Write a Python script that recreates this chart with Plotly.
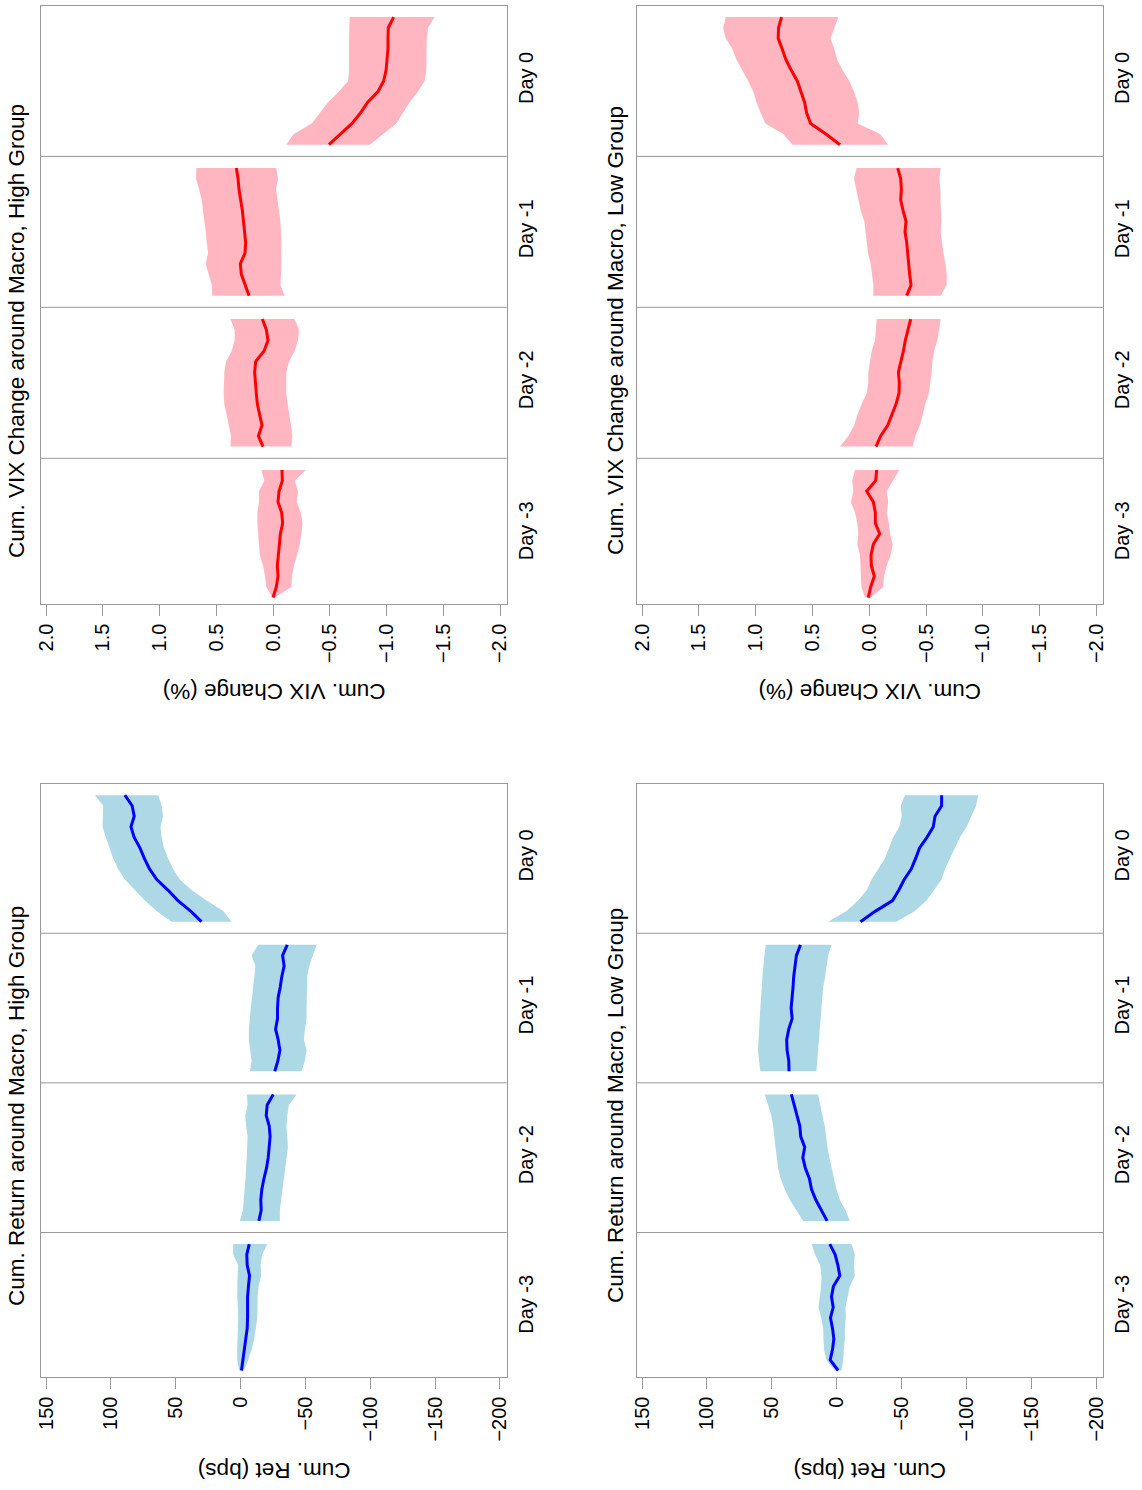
import plotly.graph_objects as go

W, H = 1142, 1490

day_labels = ["Day -3", "Day -2", "Day -1", "Day 0"]
n_pts = 13  # readings per day, evenly spaced through the session

ret_ticks = [150, 100, 50, 0, -50, -100, -150, -200]
ret_tick_text = ["150", "100", "50", "0", "\u221250", "\u2212100", "\u2212150", "\u2212200"]
vix_ticks = [2.0, 1.5, 1.0, 0.5, 0.0, -0.5, -1.0, -1.5, -2.0]
vix_tick_text = ["2.0", "1.5", "1.0", "0.5", "0.0", "\u22120.5", "\u22121.0", "\u22121.5", "\u22122.0"]

# ---- Cum. Return, High Group (bps) : one row per day (Day -3 .. Day 0)
ret_high_mean = [
    [-0.7, -1.8, -2.8, -4.1, -5.1, -5.4, -5.4, -5.4, -6.1, -6.9, -5.1, -4.8, -6.7],
    [-14.1, -15.9, -15.6, -16.4, -18.0, -20.0, -21.3, -21.8, -22.8, -22.1, -19.8, -20.5, -25.2],
    [-26.4, -28.8, -30.3, -29.0, -27.0, -28.5, -28.5, -29.0, -30.6, -31.8, -33.6, -32.4, -36.0],
    [30.1, 38.5, 48.3, 56.0, 64.6, 70.2, 74.2, 77.6, 82.0, 84.5, 82.0, 83.6, 89.2],
]
ret_high_upper = [
    [1.1, 2.6, 2.6, 2.6, 2.1, 1.8, 2.1, 2.6, 2.6, 2.3, 1.8, 5.7, 5.7],
    [0.5, -1.8, -2.5, -3.1, -3.8, -4.3, -4.9, -5.1, -5.4, -4.3, -3.6, -5.4, -4.9],
    [-7.2, -8.5, -7.4, -6.4, -6.4, -7.2, -7.9, -8.5, -9.7, -10.5, -11.5, -8.5, -13.6],
    [53.2, 64.8, 73.8, 81.5, 89.2, 94.4, 98.2, 101.3, 103.9, 106.4, 105.9, 105.9, 112.3],
]
ret_high_lower = [
    [-2.5, -5.9, -8.5, -10.5, -11.8, -12.8, -13.1, -13.1, -13.9, -15.9, -15.4, -16.7, -20.5],
    [-30.3, -30.3, -31.3, -32.4, -33.6, -34.7, -35.7, -36.5, -36.0, -35.4, -36.0, -37.2, -43.2],
    [-47.0, -49.6, -50.9, -48.8, -49.6, -50.9, -50.9, -50.9, -50.9, -51.4, -52.9, -56.0, -58.6],
    [6.9, 13.4, 26.2, 37.8, 46.8, 52.0, 55.8, 59.1, 60.9, 61.7, 59.7, 60.9, 63.5],
]

# ---- Cum. Return, Low Group (bps)
ret_low_mean = [
    [-1.0, 5.1, 3.3, 2.3, 3.3, 4.9, 2.8, 4.1, 2.6, -2.3, -0.8, 1.3, 5.4],
    [7.5, 11.6, 16.2, 19.5, 21.1, 24.2, 26.2, 24.7, 27.8, 28.5, 30.6, 32.9, 35.0],
    [36.8, 37.0, 38.3, 38.6, 37.0, 34.4, 35.2, 34.2, 33.7, 33.2, 31.9, 31.1, 28.0],
    [-18.2, -29.8, -42.9, -47.8, -51.9, -57.3, -60.7, -63.7, -69.4, -74.3, -75.6, -80.7, -80.7],
]
ret_low_upper = [
    [1.5, 8.0, 9.8, 10.3, 10.5, 12.1, 14.1, 13.1, 12.1, 11.8, 12.9, 16.7, 19.5],
    [26.0, 30.8, 36.2, 40.1, 43.2, 45.2, 46.5, 47.3, 48.1, 49.1, 50.4, 52.9, 55.5],
    [58.9, 59.9, 60.7, 60.7, 59.9, 59.4, 58.9, 58.1, 57.8, 57.3, 56.8, 55.8, 54.7],
    [6.7, -7.5, -16.4, -23.1, -26.7, -31.9, -37.0, -40.1, -43.4, -48.1, -49.9, -49.3, -52.4],
]
ret_low_lower = [
    [-3.6, -4.9, -5.4, -6.2, -6.2, -6.9, -6.7, -8.5, -10.0, -13.9, -13.1, -13.9, -11.3],
    [-10.0, -6.7, -2.3, 0.3, 2.1, 4.1, 5.7, 7.2, 8.2, 9.3, 11.1, 12.6, 14.4],
    [15.7, 15.1, 14.4, 13.9, 13.4, 12.8, 11.8, 11.3, 10.5, 9.0, 8.0, 6.7, 4.1],
    [-46.0, -60.1, -69.1, -74.8, -80.7, -83.3, -87.1, -90.5, -94.8, -100.0, -103.8, -107.2, -109.0],
]

# ---- Cum. VIX Change, High Group (%)
vix_high_mean = [
    [0.0, -0.029, -0.044, -0.038, -0.047, -0.053, -0.065, -0.085, -0.076, -0.044, -0.053, -0.082, -0.079],
    [0.088, 0.129, 0.097, 0.115, 0.138, 0.147, 0.156, 0.162, 0.153, 0.079, 0.044, 0.059, 0.094],
    [0.211, 0.247, 0.279, 0.288, 0.247, 0.241, 0.250, 0.258, 0.270, 0.285, 0.300, 0.308, 0.323],
    [-0.493, -0.593, -0.696, -0.772, -0.834, -0.925, -0.975, -0.996, -1.004, -1.013, -1.013, -1.016, -1.063],
]
vix_high_upper = [
    [0.006, 0.059, 0.070, 0.088, 0.117, 0.126, 0.132, 0.138, 0.138, 0.123, 0.123, 0.076, 0.103],
    [0.376, 0.370, 0.388, 0.411, 0.429, 0.435, 0.435, 0.429, 0.414, 0.364, 0.338, 0.338, 0.376],
    [0.535, 0.540, 0.564, 0.593, 0.573, 0.584, 0.593, 0.602, 0.617, 0.628, 0.652, 0.678, 0.675],
    [-0.117, -0.182, -0.341, -0.411, -0.485, -0.581, -0.661, -0.670, -0.670, -0.670, -0.670, -0.670, -0.675],
]
vix_high_lower = [
    [-0.015, -0.162, -0.167, -0.185, -0.211, -0.235, -0.250, -0.261, -0.244, -0.209, -0.220, -0.191, -0.288],
    [-0.162, -0.170, -0.159, -0.141, -0.129, -0.117, -0.115, -0.117, -0.141, -0.191, -0.220, -0.229, -0.191],
    [-0.103, -0.065, -0.070, -0.073, -0.073, -0.073, -0.070, -0.065, -0.053, -0.038, -0.026, -0.044, -0.029],
    [-0.852, -0.969, -1.087, -1.145, -1.204, -1.278, -1.336, -1.351, -1.351, -1.351, -1.354, -1.366, -1.424],
]

# ---- Cum. VIX Change, Low Group (%)
vix_low_mean = [
    [0.009, -0.012, -0.044, -0.018, -0.015, -0.035, -0.091, -0.053, -0.053, -0.035, 0.023, -0.056, -0.065],
    [-0.059, -0.100, -0.162, -0.200, -0.235, -0.261, -0.264, -0.256, -0.279, -0.300, -0.317, -0.338, -0.364],
    [-0.329, -0.367, -0.355, -0.347, -0.341, -0.329, -0.314, -0.323, -0.297, -0.276, -0.282, -0.276, -0.250],
    [0.258, 0.382, 0.517, 0.552, 0.570, 0.602, 0.634, 0.687, 0.734, 0.767, 0.802, 0.799, 0.772],
]
vix_low_upper = [
    [0.038, 0.070, 0.079, 0.079, 0.082, 0.106, 0.097, 0.106, 0.126, 0.162, 0.141, 0.150, 0.126],
    [0.258, 0.185, 0.132, 0.106, 0.068, 0.023, 0.009, 0.009, -0.003, -0.021, -0.050, -0.059, -0.065],
    [-0.035, -0.035, -0.026, -0.012, 0.012, 0.026, 0.032, 0.044, 0.076, 0.094, 0.117, 0.135, 0.112],
    [0.675, 0.758, 0.916, 0.957, 0.993, 1.022, 1.066, 1.116, 1.169, 1.204, 1.263, 1.286, 1.263],
]
vix_low_lower = [
    [-0.012, -0.123, -0.129, -0.153, -0.188, -0.206, -0.182, -0.173, -0.153, -0.167, -0.153, -0.211, -0.264],
    [-0.382, -0.405, -0.446, -0.467, -0.493, -0.523, -0.537, -0.549, -0.555, -0.570, -0.599, -0.611, -0.628],
    [-0.628, -0.681, -0.681, -0.670, -0.652, -0.637, -0.628, -0.634, -0.628, -0.626, -0.626, -0.617, -0.628],
    [-0.167, -0.094, 0.103, 0.088, 0.103, 0.135, 0.176, 0.235, 0.282, 0.308, 0.341, 0.308, 0.273],
]

# ---------------------------------------------------------------- layout helpers
FONT = "Liberation Sans, Arial, sans-serif"
FRAME = "#999999"
DAY_SPAN = 0.845          # fraction of a day slot occupied by the session
SEP = 0.9225              # position of the divider after each day
T_RANGE = [-0.04, 3.92]
TICK_SIZE = 20
TITLE_SIZE = 22.5


def px(x):
    return x / W


def py(y):
    return 1 - y / H


panels = [
    dict(n=1, xd=(40.7, 506.7), yd=(784, 1376.5), mean=ret_high_mean, up=ret_high_upper, lo=ret_high_lower,
         rng=[154.1, -205.2], tv=ret_ticks, tt=ret_tick_text, band="#ADD8E6", line="#0000FF",
         title="Cum. Return around Macro, High Group", atitle="Cum. Ret (bps)", tx=16, ty=1106, ay=1471),
    dict(n=2, xd=(636.7, 1103.3), yd=(784, 1376.5), mean=ret_low_mean, up=ret_low_upper, lo=ret_low_lower,
         rng=[154.1, -205.2], tv=ret_ticks, tt=ret_tick_text, band="#ADD8E6", line="#0000FF",
         title="Cum. Return around Macro, Low Group", atitle="Cum. Ret (bps)", tx=615, ty=1106, ay=1471),
    dict(n=3, xd=(40.7, 506.7), yd=(5.8, 603.6), mean=vix_high_mean, up=vix_high_upper, lo=vix_high_lower,
         rng=[2.047, -2.059], tv=vix_ticks, tt=vix_tick_text, band="#FFB6C1", line="#FF0000",
         title="Cum. VIX Change around Macro, High Group", atitle="Cum. VIX Change (%)", tx=16, ty=331, ay=692),
    dict(n=4, xd=(636.7, 1103.3), yd=(5.8, 603.6), mean=vix_low_mean, up=vix_low_upper, lo=vix_low_lower,
         rng=[2.047, -2.059], tv=vix_ticks, tt=vix_tick_text, band="#FFB6C1", line="#FF0000",
         title="Cum. VIX Change around Macro, Low Group", atitle="Cum. VIX Change (%)", tx=615, ty=331, ay=692),
]

fig = go.Figure()
shapes = []
annotations = []
layout_axes = {}

for p in panels:
    n = p["n"]
    xa = "x" if n == 1 else f"x{n}"
    ya = "y" if n == 1 else f"y{n}"
    xkey = "xaxis" if n == 1 else f"xaxis{n}"
    ykey = "yaxis" if n == 1 else f"yaxis{n}"

    line_x, line_t = [], []
    for d in range(4):
        t = [d + DAY_SPAN * k / (n_pts - 1) for k in range(n_pts)]
        fig.add_trace(go.Scatter(
            x=p["lo"][d] + p["up"][d][::-1], y=t + t[::-1],
            xaxis=xa, yaxis=ya, mode="lines", fill="toself",
            fillcolor=p["band"], line=dict(width=0, color=p["band"]),
            hoverinfo="skip", showlegend=False))
        line_x += p["mean"][d] + [None]
        line_t += t + [None]
    fig.add_trace(go.Scatter(
        x=line_x, y=line_t, xaxis=xa, yaxis=ya, mode="lines",
        line=dict(color=p["line"], width=3), showlegend=False))

    layout_axes[xkey] = dict(
        domain=[px(p["xd"][0]), px(p["xd"][1])], anchor=ya, range=p["rng"], automargin=False,
        tickmode="array", tickvals=p["tv"], ticktext=p["tt"], tickangle=-90,
        ticks="outside", ticklen=11, tickcolor=FRAME, tickwidth=1,
        showline=True, mirror=True, linecolor=FRAME, linewidth=1,
        showgrid=False, zeroline=False, tickfont=dict(family=FONT, size=TICK_SIZE, color="black"))
    layout_axes[ykey] = dict(
        domain=[py(p["yd"][1]), py(p["yd"][0])], anchor=xa, range=T_RANGE, side="right",
        automargin=False,
        tickmode="array", tickvals=[d + DAY_SPAN / 2 for d in range(4)], ticktext=day_labels,
        tickangle=-90, ticks="", ticklabelstandoff=1,
        showline=True, mirror=True, linecolor=FRAME, linewidth=1,
        showgrid=False, zeroline=False, tickfont=dict(family=FONT, size=TICK_SIZE, color="black"))

    for d in range(3):
        shapes.append(dict(type="line", xref=f"{xa} domain", yref=ya, x0=0, x1=1,
                           y0=d + SEP, y1=d + SEP, line=dict(color=FRAME, width=1)))

    annotations.append(dict(text=p["title"], xref="paper", yref="paper",
                            x=px(p["tx"]), y=py(p["ty"]), textangle=-90,
                            showarrow=False, xanchor="center", yanchor="middle",
                            font=dict(family=FONT, size=TITLE_SIZE, color="black")))
    annotations.append(dict(text=p["atitle"], xref="paper", yref="paper",
                            x=px((p["xd"][0] + p["xd"][1]) / 2), y=py(p["ay"]), textangle=180,
                            showarrow=False, xanchor="center", yanchor="middle",
                            font=dict(family=FONT, size=TITLE_SIZE, color="black")))

fig.update_layout(
    width=W, height=H, margin=dict(l=0, r=0, t=0, b=0, autoexpand=False),
    paper_bgcolor="white", plot_bgcolor="white",
    shapes=shapes, annotations=annotations, showlegend=False,
    **layout_axes)

fig.write_html("out.html")
